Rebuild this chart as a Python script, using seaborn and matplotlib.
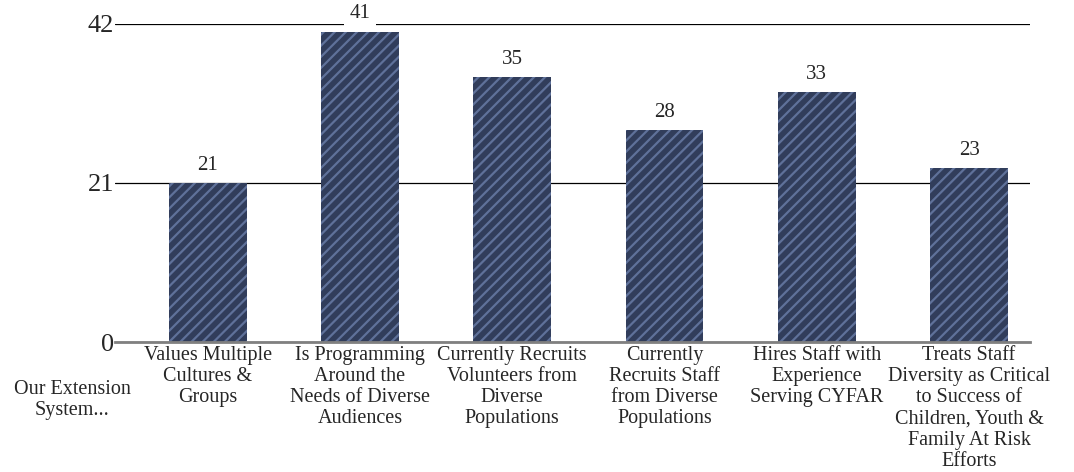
import matplotlib
matplotlib.use("Agg")
import matplotlib.pyplot as plt
import seaborn as sns
import pandas as pd

categories = [
    "Values Multiple\nCultures &\nGroups",
    "Is Programming\nAround the\nNeeds of Diverse\nAudiences",
    "Currently Recruits\nVolunteers from\nDiverse\nPopulations",
    "Currently\nRecruits Staff\nfrom Diverse\nPopulations",
    "Hires Staff with\nExperience\nServing CYFAR",
    "Treats Staff\nDiversity as Critical\nto Success of\nChildren, Youth &\nFamily At Risk\nEfforts",
]
values = [21, 41, 35, 28, 33, 23]
y_ticks = [0, 21, 42]
row_title = "Our Extension\nSystem..."

sns.set_theme(style="white")
plt.rcParams["font.family"] = ["Liberation Serif", "DejaVu Serif"]
plt.rcParams["hatch.linewidth"] = 1.6

df = pd.DataFrame({"cat": categories, "val": values})

fig = plt.figure(figsize=(10.74, 4.72), dpi=100)
ax = fig.add_axes([0.107, 0.2754, 0.852, 0.6738])

sns.barplot(data=df, x="cat", y="val", color="#313d5b", width=0.51,
            saturation=1, ax=ax, zorder=3)
for p in ax.patches:
    p.set_facecolor("#313d5b")
    p.set_edgecolor("#5f719a")
    p.set_linewidth(0)
    p.set_hatch("///")

ax.set_xlim(-0.61, 5.40)
ax.set_ylim(0, 42)
ax.set_yticks(y_ticks)
ax.set_yticklabels([str(t) for t in y_ticks], fontsize=19)
ax.tick_params(axis="y", length=0, pad=0.5)
ax.tick_params(axis="x", length=0, pad=3)
for lbl in ax.get_xticklabels():
    lbl.set_fontsize(14.5)
    lbl.set_linespacing(1.15)
    lbl.set_va("top")
ax.set_xlabel("")
ax.set_ylabel("")

ax.set_axisbelow(True)
ax.yaxis.grid(True, color="black", linewidth=0.9)
ax.xaxis.grid(False)
for s in ["top", "right", "left"]:
    ax.spines[s].set_visible(False)
ax.spines["bottom"].set_color("#808080")
ax.spines["bottom"].set_linewidth(2)
ax.spines["bottom"].set_zorder(4)

labels = ax.bar_label(ax.containers[0], padding=6, fontsize=15)
for t in labels:
    t.set_bbox(dict(facecolor="white", edgecolor="none", pad=4))
    t.set_clip_on(False)
    t.set_zorder(5)

fig.text(72 / 1074, 1 - 400 / 472, row_title, ha="center", va="center",
         fontsize=14.5, linespacing=1.15)

fig.savefig("out.png", dpi=100)
